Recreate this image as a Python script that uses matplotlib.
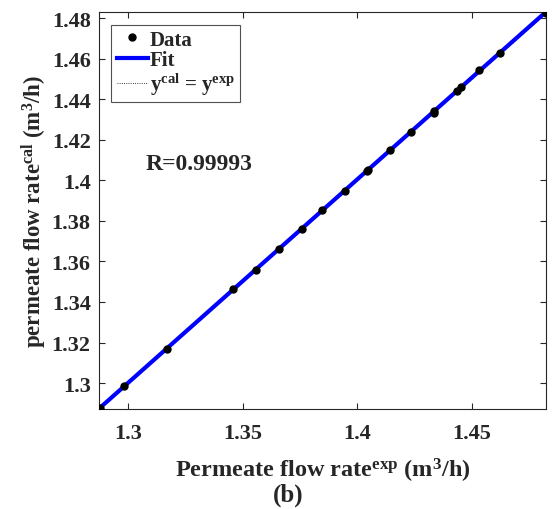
import matplotlib
matplotlib.use('Agg')
import matplotlib.pyplot as plt
import numpy as np

plt.rcParams['font.family'] = 'Liberation Serif'
plt.rcParams['font.weight'] = 'bold'
plt.rcParams['axes.labelweight'] = 'bold'
plt.rcParams['mathtext.fontset'] = 'custom'
plt.rcParams['mathtext.rm'] = 'Liberation Serif:bold'
plt.rcParams['mathtext.it'] = 'Liberation Serif:bold'
plt.rcParams['mathtext.bf'] = 'Liberation Serif:bold'
plt.rcParams['mathtext.default'] = 'bf'

# experimental vs calculated permeate flow rate (m3/h)
x_exp = [1.2874, 1.2879, 1.2983, 1.3171, 1.3458, 1.3557, 1.3657, 1.3757,
         1.3845, 1.3945, 1.4043, 1.4046, 1.4143, 1.4233, 1.4332, 1.4333,
         1.4432, 1.4451, 1.4530, 1.4620, 1.4822]
y_cal = [1.2873, 1.2878, 1.2985, 1.3168, 1.3464, 1.3559, 1.3661, 1.3762,
         1.3855, 1.3949, 1.4047, 1.4052, 1.4150, 1.4240, 1.4331, 1.4344,
         1.4440, 1.4459, 1.4545, 1.4629, 1.4828]
r_value = 0.99993

xs = np.array(x_exp)
ys = np.array(y_cal)
a, b = np.polyfit(xs, ys, 1)
xl = np.array([xs.min(), xs.max()])

fig = plt.figure(figsize=(5.53, 5.10), dpi=100)
ax = fig.add_axes([99/553, 1 - 410/510, 447/553, 397/510])

ax.plot(xs, ys, 'o', color='black', markersize=5, label='Data', zorder=3)
ax.plot(xl, a*xl + b, '-', color='blue', linewidth=3, label='Fit', zorder=2)
ax.plot(xl, xl, ':', color='black', linewidth=0.6, label=r'y$^{cal}$ = y$^{exp}$', zorder=1)

ax.set_xlim(1.2874, 1.4822)
ax.set_ylim(1.2872, 1.4831)
ax.set_xticks([1.30, 1.35, 1.40, 1.45])
ax.set_xticklabels(['1.3', '1.35', '1.4', '1.45'], fontweight='bold')
ax.set_yticks([1.30, 1.32, 1.34, 1.36, 1.38, 1.40, 1.42, 1.44, 1.46, 1.48])
ax.set_yticklabels(['1.3', '1.32', '1.34', '1.36', '1.38', '1.4', '1.42', '1.44', '1.46', '1.48'],
                   fontweight='bold')
ax.tick_params(direction='in', top=True, right=True, length=4, width=0.8,
               labelsize=16, colors='#262626', pad=6)
ax.tick_params(axis='x', pad=10)
for s in ax.spines.values():
    s.set_color('#262626')
    s.set_linewidth(0.8)

ax.set_xlabel(r'Permeate flow rate$^{exp}$ (m$^{3}$/h)', fontsize=17.5, fontweight='bold',
              color='#262626', labelpad=9)
ax.set_ylabel(r'permeate flow rate$^{cal}$ (m$^{3}$/h)', fontsize=16.5, fontweight='bold',
              color='#262626', labelpad=2)

ax.text(0.105, 0.605, 'R=%.5f' % r_value, transform=ax.transAxes, fontsize=17,
        fontweight='bold', color='#262626')

leg = ax.legend(loc='upper left', prop={'size': 15, 'weight': 'bold'}, frameon=True,
                fancybox=False, edgecolor='#262626', borderaxespad=0.6, handlelength=1.5,
                handletextpad=0.1, labelspacing=0.02, borderpad=0.25)
leg.get_frame().set_linewidth(0.8)
for t in leg.get_texts():
    t.set_color('#262626')

fig.text(288/553, 1 - 495/510, '(b)', fontsize=18, fontweight='bold',
         ha='center', va='center', color='#262626')

fig.savefig('out.png', dpi=100)
